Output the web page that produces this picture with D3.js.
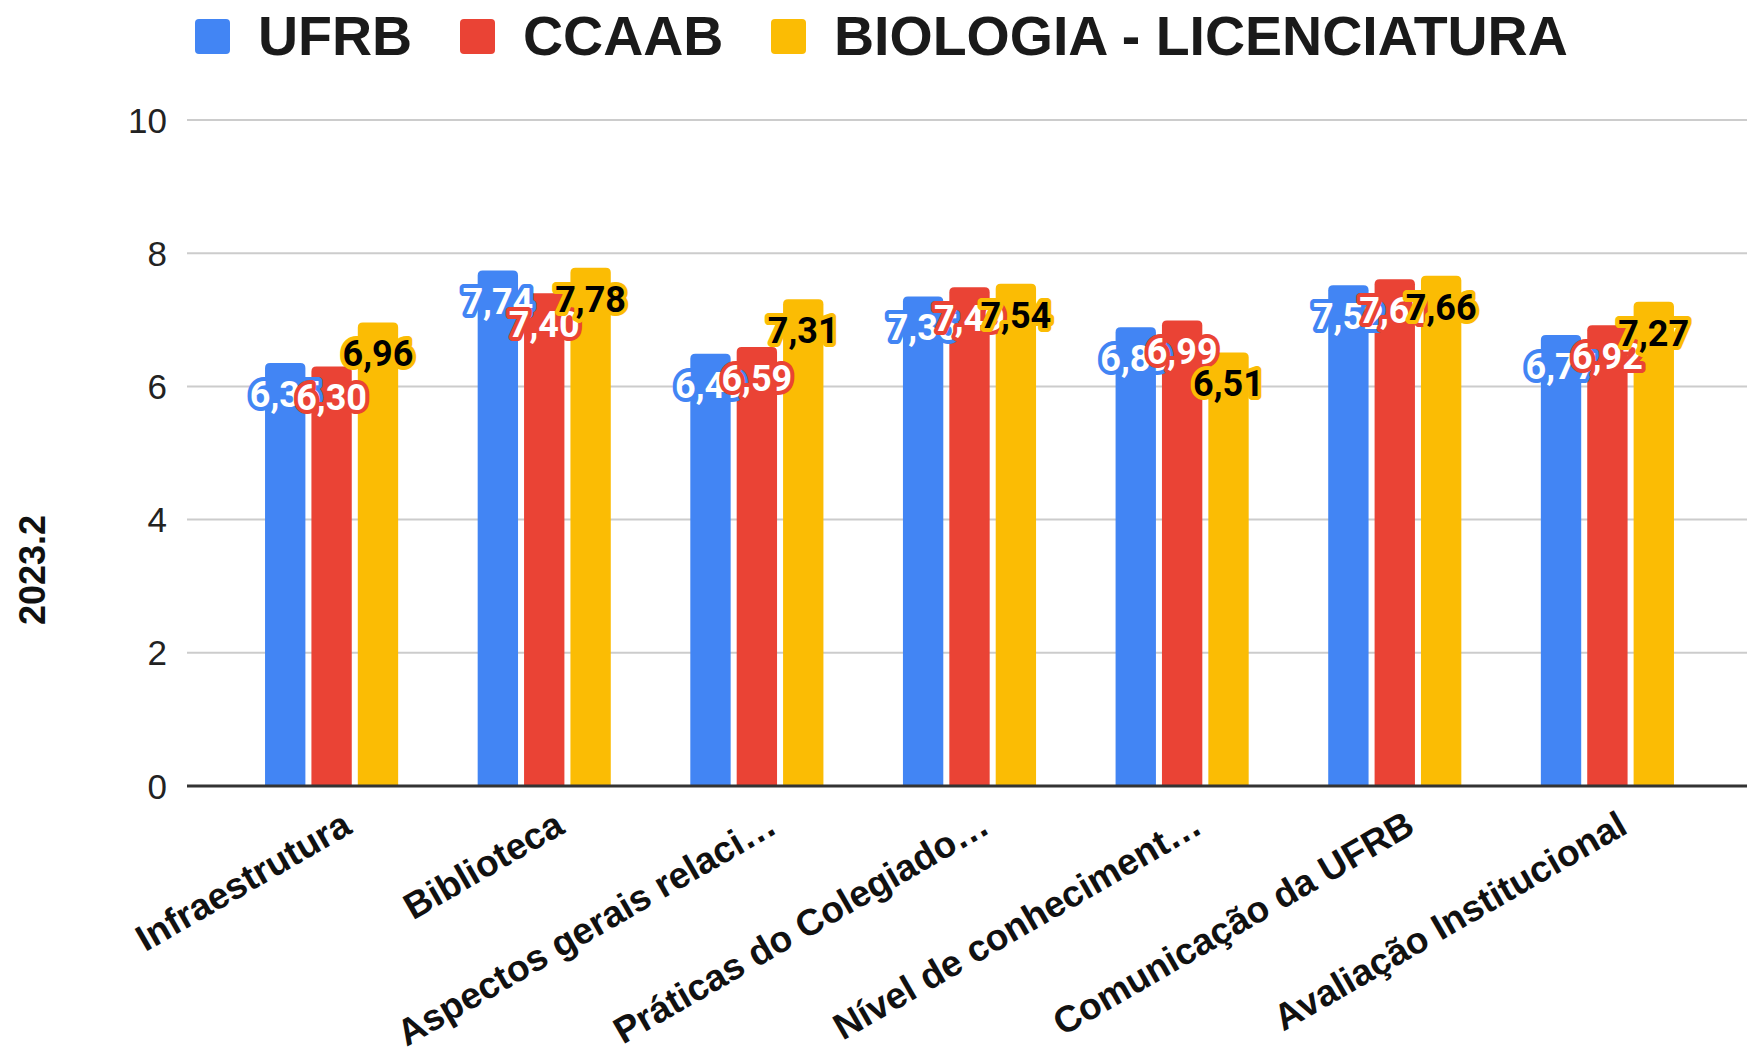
<!DOCTYPE html>
<html>
<head>
<meta charset="utf-8">
<script src="https://cdn.jsdelivr.net/npm/d3@7"></script>
<style>
    body { margin: 0; background: #fff; }
    svg { display: block; }
    .tick-label { font-family: "Liberation Sans", Arial, sans-serif; font-size: 35px; fill: #222; }
    .cat-label { font-family: "Liberation Sans", Arial, sans-serif; font-size: 37px; font-weight: bold; fill: #111; }
    .legend-label { font-family: "Liberation Sans", Arial, sans-serif; font-size: 55.5px; font-weight: bold; fill: #1a1a1a; }
    .value-label { font-family: Roboto, "Liberation Sans", sans-serif; font-size: 36px; font-weight: bold; paint-order: stroke; stroke-linejoin: round; }
</style>
</head>
<body>
<svg id="chart" width="1747" height="1053"></svg>
<script>
var categories = ["Infraestrutura", "Biblioteca", "Aspectos gerais relaci\u2026", "Pr\u00e1ticas do Colegiado\u2026",
    "N\u00edvel de conheciment\u2026", "Comunica\u00e7\u00e3o da UFRB", "Avalia\u00e7\u00e3o Institucional"];
var series = ["UFRB", "CCAAB", "BIOLOGIA - LICENCIATURA"];
var ufrb = [6.35, 7.74, 6.49, 7.35, 6.89, 7.52, 6.77];
var ccaab = [6.30, 7.40, 6.59, 7.49, 6.99, 7.61, 6.92];
var biologia = [6.96, 7.78, 7.31, 7.54, 6.51, 7.66, 7.27];
var yTicks = [0, 2, 4, 6, 8, 10];
var colors = ["#4285f4", "#ea4335", "#fbbc04"];
var labelFill = ["#fff", "#fff", "#000"];
var axisTitle = "2023.2";

var svg = d3.select("#chart");
var values = [ufrb, ccaab, biologia];

// flatten to one record per bar
var bars = [];
series.forEach(function (s, si) {
    categories.forEach(function (c, ci) {
        bars.push({ series: s, si: si, category: c, value: values[si][ci] });
    });
});

var x0 = d3.scaleBand()
    .domain(categories)
    .range([187, 1752])
    .paddingInner(0)
    .paddingOuter(0.18);

var x1 = d3.scaleBand()
    .domain(series)
    .range([x0.bandwidth() * 0.187, x0.bandwidth() * 0.813])
    .paddingInner(0.13);

var y = d3.scaleLinear()
    .domain([0, 10])
    .range([786, 120]);

var fmt = d3.formatLocale({ decimal: ",", thousands: ".", grouping: [3], currency: ["R$", ""] }).format(".2f");

// gridlines
svg.append("g").selectAll("line")
    .data(yTicks.filter(function (d) { return d > 0; }))
    .enter().append("line")
    .attr("x1", 187).attr("x2", 1747)
    .attr("y1", function (d) { return y(d); })
    .attr("y2", function (d) { return y(d); })
    .attr("stroke", "#cccccc")
    .attr("stroke-width", 2);

svg.append("g").selectAll("text")
    .data(yTicks)
    .enter().append("text")
    .attr("class", "tick-label")
    .attr("x", 167)
    .attr("y", function (d) { return y(d); })
    .attr("dy", "0.36em")
    .attr("text-anchor", "end")
    .text(function (d) { return d; });

// y title
svg.append("text")
    .attr("transform", "translate(45,570)rotate(-90)")
    .attr("text-anchor", "middle")
    .style("font-family", "'Liberation Sans', Arial, sans-serif")
    .style("font-size", "36px")
    .style("font-weight", "bold")
    .attr("fill", "#111")
    .text(axisTitle);

// rounded top bar path
function barPath(d) {
    var bx = x0(d.category) + x1(d.series), bw = x1.bandwidth();
    var top = y(d.value), base = y(0), r = 5;
    return "M" + bx + "," + base +
        "V" + (top + r) +
        "Q" + bx + "," + top + " " + (bx + r) + "," + top +
        "H" + (bx + bw - r) +
        "Q" + (bx + bw) + "," + top + " " + (bx + bw) + "," + (top + r) +
        "V" + base + "Z";
}

svg.append("g").selectAll("path")
    .data(bars)
    .enter().append("path")
    .attr("d", barPath)
    .attr("fill", function (d) { return colors[d.si]; });

// baseline
svg.append("line")
    .attr("x1", 187).attr("x2", 1747)
    .attr("y1", y(0)).attr("y2", y(0))
    .attr("stroke", "#333")
    .attr("stroke-width", 3);

// value labels, drawn in series order so later series sit on top
svg.append("g").selectAll("text")
    .data(bars)
    .enter().append("text")
    .attr("class", "value-label")
    .attr("x", function (d) { return x0(d.category) + x1(d.series) + x1.bandwidth() / 2; })
    .attr("y", function (d) { return y(d.value) + 31; })
    .attr("dy", "0.36em")
    .attr("text-anchor", "middle")
    .attr("fill", function (d) { return labelFill[d.si]; })
    .attr("stroke", function (d) { return colors[d.si]; })
    .attr("stroke-width", 8)
    .text(function (d) { return fmt(d.value); });

// category labels
svg.append("g").selectAll("text")
    .data(categories)
    .enter().append("text")
    .attr("class", "cat-label")
    .attr("text-anchor", "end")
    .attr("transform", function (d) {
        return "translate(" + (x0(d) + x0.bandwidth() / 2 + 22) + ",832)rotate(-30)";
    })
    .text(function (d) { return d; });

// legend
var legendX = [195, 460, 771];
var legend = svg.append("g").selectAll("g")
    .data(series)
    .enter().append("g")
    .attr("transform", function (d, i) { return "translate(" + legendX[i] + ",19)"; });

legend.append("rect")
    .attr("width", 35).attr("height", 35)
    .attr("rx", 4)
    .attr("fill", function (d, i) { return colors[i]; });

legend.append("text")
    .attr("class", "legend-label")
    .attr("x", 63)
    .attr("y", 36)
    .text(function (d) { return d; });
</script>
</body>
</html>
